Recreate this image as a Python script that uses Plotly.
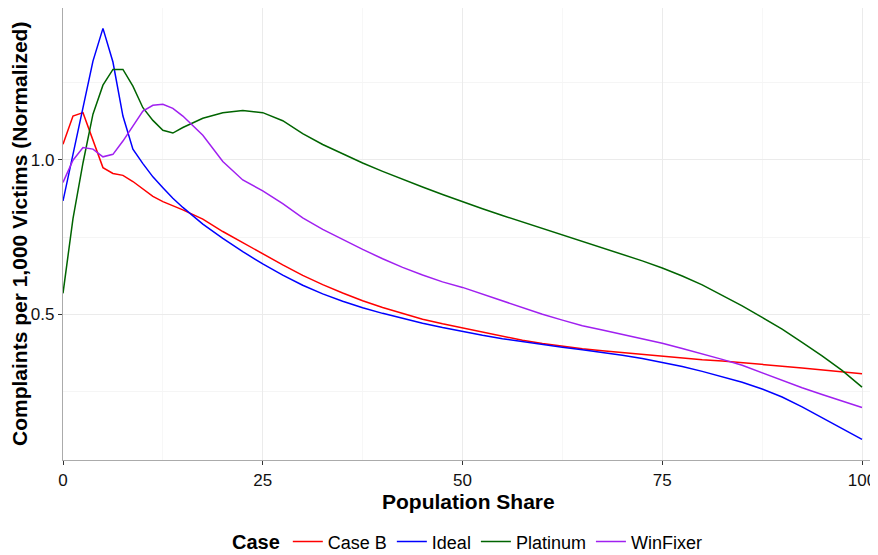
import plotly.graph_objects as go

x_share = [0, 1.25, 2.5, 3.75, 5, 6.25, 7.5, 8.75, 10, 11.25, 12.5, 13.75, 15,
           17.5, 20, 22.5, 25, 27.5, 30, 32.5, 35, 37.5, 40, 42.5, 45, 47.5, 50,
           52.5, 55, 57.5, 60, 62.5, 65, 67.5, 70, 72.5, 75, 77.5, 80, 82.5, 85,
           87.5, 90, 92.5, 95, 97.5, 100]

case_b = [1.051, 1.142, 1.153, 1.064, 0.975, 0.956, 0.950, 0.930, 0.905, 0.882, 0.865, 0.852, 0.838,
          0.808, 0.768, 0.732, 0.695, 0.660, 0.626, 0.596, 0.569, 0.544, 0.522, 0.502, 0.484, 0.469, 0.456,
          0.441, 0.428, 0.416, 0.405, 0.396, 0.388, 0.382, 0.376, 0.370, 0.364, 0.358, 0.353, 0.349, 0.344,
          0.339, 0.332, 0.326, 0.320, 0.313, 0.307]

ideal = [0.867, 1.018, 1.169, 1.320, 1.426, 1.317, 1.142, 1.035, 0.988, 0.945, 0.910, 0.876, 0.846,
         0.792, 0.746, 0.703, 0.663, 0.627, 0.594, 0.566, 0.542, 0.521, 0.503, 0.486, 0.471, 0.457, 0.444,
         0.432, 0.421, 0.411, 0.402, 0.393, 0.385, 0.377, 0.367, 0.357, 0.345, 0.331, 0.315, 0.298, 0.280,
         0.258, 0.232, 0.200, 0.165, 0.130, 0.095]

platinum = [0.568, 0.810, 0.990, 1.148, 1.242, 1.293, 1.293, 1.239, 1.169, 1.128, 1.096, 1.087, 1.105,
            1.135, 1.153, 1.160, 1.153, 1.127, 1.085, 1.050, 1.020, 0.990, 0.963, 0.937, 0.912, 0.888, 0.864,
            0.842, 0.820, 0.799, 0.778, 0.758, 0.737, 0.716, 0.695, 0.673, 0.650, 0.624, 0.595, 0.562, 0.527,
            0.490, 0.452, 0.409, 0.365, 0.318, 0.264]

winfixer = [0.927, 0.999, 1.040, 1.035, 1.010, 1.018, 1.061, 1.110, 1.158, 1.177, 1.180, 1.167, 1.142,
            1.080, 0.995, 0.935, 0.900, 0.858, 0.812, 0.775, 0.742, 0.710, 0.680, 0.652, 0.627, 0.605, 0.587,
            0.565, 0.543, 0.521, 0.500, 0.481, 0.463, 0.449, 0.435, 0.421, 0.406, 0.389, 0.372, 0.354, 0.335,
            0.310, 0.285, 0.262, 0.240, 0.219, 0.198]

series = [("Case B", case_b, "#FF0000"),
          ("Ideal", ideal, "#0000FF"),
          ("Platinum", platinum, "#006400"),
          ("WinFixer", winfixer, "#A020F0")]

x_ticks = [0, 25, 50, 75, 100]
x_tick_labels = ["0", "25", "50", "75", "100"]
y_ticks = [0.5, 1.0]
y_tick_labels = ["0.5", "1.0"]

FONT = "Liberation Sans, Arial, Helvetica, sans-serif"

fig = go.Figure()
for name, vals, col in series:
    fig.add_trace(go.Scatter(x=x_share, y=vals, mode="lines", name=name,
                             line=dict(color=col, width=1.5)))

axis_common = dict(
    showline=True, linecolor="#ABABAB", linewidth=1.3, mirror=True,
    ticks="outside", ticklen=4, tickcolor="#333333", tickwidth=1,
    showgrid=True, gridcolor="#EBEBEB", gridwidth=1,
    zeroline=False, automargin=False,
    tickfont=dict(family=FONT, size=17, color="#111111"),
)

fig.update_xaxes(range=[0, 101.5], tickvals=x_ticks, ticktext=x_tick_labels,
                 minor=dict(tickvals=[12.5, 37.5, 62.5, 87.5], showgrid=True,
                            gridcolor="#F7F7F7", ticks=""),
                 **axis_common)
fig.update_yaxes(range=[0.028, 1.492], tickvals=y_ticks, ticktext=y_tick_labels,
                 minor=dict(tickvals=[0.25, 0.75, 1.25], showgrid=True,
                            gridcolor="#F5F5F5", ticks=""),
                 **axis_common)

# The page body adds an 8px offset; the figure is sized to fill the 878x555 window exactly.
fig.update_layout(
    width=870, height=547,
    margin=dict(l=55, r=4, t=0, b=95, autoexpand=False),
    plot_bgcolor="white", paper_bgcolor="white",
    font=dict(family=FONT, size=17, color="#000000"),
    legend=dict(orientation="h", x=0.5, xanchor="center",
                y=-0.181, yanchor="middle",
                title=dict(text="<b>Case</b>", font=dict(size=20, family=FONT)),
                font=dict(size=18, family=FONT), itemwidth=30,
                bgcolor="rgba(0,0,0,0)"),
    annotations=[
        dict(text="<b>Population Share</b>", xref="paper", yref="paper",
             x=0.5, y=0, xanchor="center", yanchor="middle", yshift=-41,
             showarrow=False, font=dict(size=21, family=FONT, color="#000000")),
        dict(text="<b>Complaints per 1,000 Victims (Normalized)</b>", xref="paper", yref="paper",
             x=0, y=0.5, xanchor="center", yanchor="middle", xshift=-44, textangle=-90,
             showarrow=False, font=dict(size=21, family=FONT, color="#000000")),
    ],
)

fig.write_html("out.html")
